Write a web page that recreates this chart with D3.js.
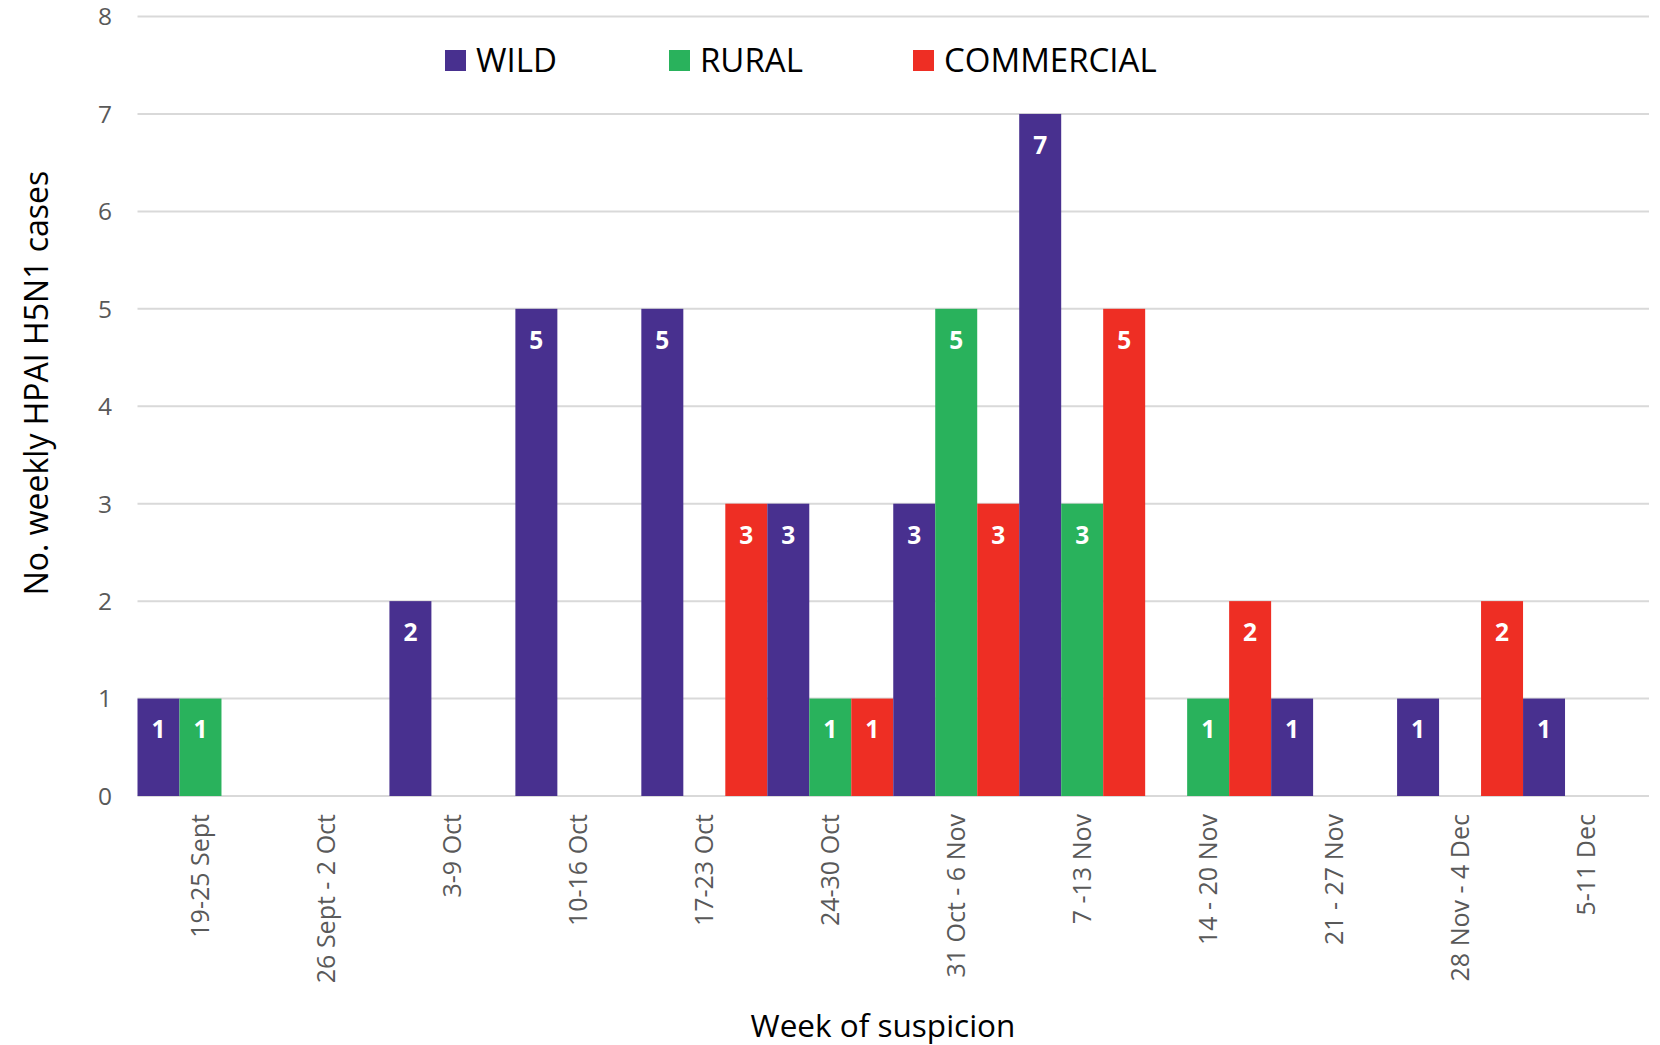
<!DOCTYPE html>
<html>
<head>
<meta charset="utf-8">
<script src="https://cdn.jsdelivr.net/npm/d3@7"></script>
<style>
  body { margin: 0; background: #fff; }
  svg { display: block; }
  text { font-family: "Open Sans", Lato, sans-serif; }
</style>
</head>
<body>
<svg id="chart"></svg>
<script>
const weeks = ["19-25 Sept", "26 Sept - 2 Oct", "3-9 Oct", "10-16 Oct", "17-23 Oct", "24-30 Oct",
  "31 Oct - 6 Nov", "7 -13 Nov", "14 - 20 Nov", "21 - 27 Nov", "28 Nov - 4 Dec", "5-11 Dec"];
const seriesNames = ["WILD", "RURAL", "COMMERCIAL"];
const wild       = [1, 0, 2, 5, 5, 3, 3, 7, 0, 1, 1, 1];
const rural      = [1, 0, 0, 0, 0, 1, 5, 3, 1, 0, 0, 0];
const commercial = [0, 0, 0, 0, 3, 1, 3, 5, 2, 0, 2, 0];
const yTicks = [0, 1, 2, 3, 4, 5, 6, 7, 8];
const colors = ["#48308f", "#29b25c", "#ee2e24"];

const width = 1660, height = 1045;
const margin = { top: 16.5, right: 11, bottom: 249, left: 137.5 };

const svg = d3.select("#chart").attr("width", width).attr("height", height);

const x0 = d3.scaleBand().domain(weeks).range([margin.left, width - margin.right]).padding(0);
const x1 = d3.scaleBand().domain(seriesNames).range([0, x0.bandwidth()]).padding(0);
const y = d3.scaleLinear().domain([0, 8]).range([height - margin.bottom, margin.top]);

// Gridlines
svg.append("g")
  .selectAll("line")
  .data(yTicks)
  .enter()
  .append("line")
  .attr("x1", margin.left)
  .attr("x2", width - margin.right)
  .attr("y1", d => y(d))
  .attr("y2", d => y(d))
  .attr("stroke", "#d9d9d9")
  .attr("stroke-width", 2);

// Y tick labels
svg.append("g")
  .selectAll("text")
  .data(yTicks)
  .enter()
  .append("text")
  .attr("x", 112)
  .attr("y", d => y(d))
  .attr("dy", "0.36em")
  .attr("text-anchor", "end")
  .attr("fill", "#595959")
  .attr("font-size", "24.5px")
  .text(d => d);

// Bars
const rows = weeks.map((w, i) => ({
  week: w,
  values: [wild[i], rural[i], commercial[i]].map((v, j) => ({ key: seriesNames[j], value: v, color: colors[j] }))
}));

const groups = svg.append("g")
  .selectAll("g")
  .data(rows)
  .enter()
  .append("g")
  .attr("transform", d => `translate(${x0(d.week)},0)`);

const cells = groups.selectAll("g")
  .data(d => d.values.filter(v => v.value > 0))
  .enter()
  .append("g");

cells.append("rect")
  .attr("x", d => x1(d.key))
  .attr("y", d => y(d.value))
  .attr("width", x1.bandwidth())
  .attr("height", d => y(0) - y(d.value))
  .attr("fill", d => d.color);

cells.append("text")
  .attr("x", d => x1(d.key) + x1.bandwidth() / 2)
  .attr("y", d => y(d.value) + 31)
  .attr("dy", "0.36em")
  .attr("text-anchor", "middle")
  .attr("fill", "#fff")
  .attr("font-weight", "bold")
  .attr("font-size", "24.5px")
  .text(d => d.value);

// X tick labels
svg.append("g")
  .selectAll("text")
  .data(weeks)
  .enter()
  .append("text")
  .attr("transform", d => `translate(${x0(d) + x0.bandwidth() / 2},${y(0) + 18}) rotate(-90)`)
  .attr("dy", "0.36em")
  .attr("text-anchor", "end")
  .attr("fill", "#595959")
  .attr("font-size", "25px")
  .text(d => d);

// Axis titles
svg.append("text")
  .attr("x", 883)
  .attr("y", 1037)
  .attr("text-anchor", "middle")
  .attr("fill", "#000")
  .attr("font-size", "31.5px")
  .text("Week of suspicion");

svg.append("text")
  .attr("transform", "translate(48,383) rotate(-90)")
  .attr("text-anchor", "middle")
  .attr("fill", "#000")
  .attr("font-size", "32px")
  .text("No. weekly HPAI H5N1 cases");

// Legend
const legendX = [445, 669, 913];
const legend = svg.append("g")
  .selectAll("g")
  .data(seriesNames)
  .enter()
  .append("g")
  .attr("transform", (d, i) => `translate(${legendX[i]},50)`);

legend.append("rect")
  .attr("width", 21)
  .attr("height", 21)
  .attr("fill", (d, i) => colors[i]);

legend.append("text")
  .attr("x", 31)
  .attr("y", 21.5)
  .attr("fill", "#000")
  .attr("font-size", "33px")
  .text(d => d);
</script>
</body>
</html>
